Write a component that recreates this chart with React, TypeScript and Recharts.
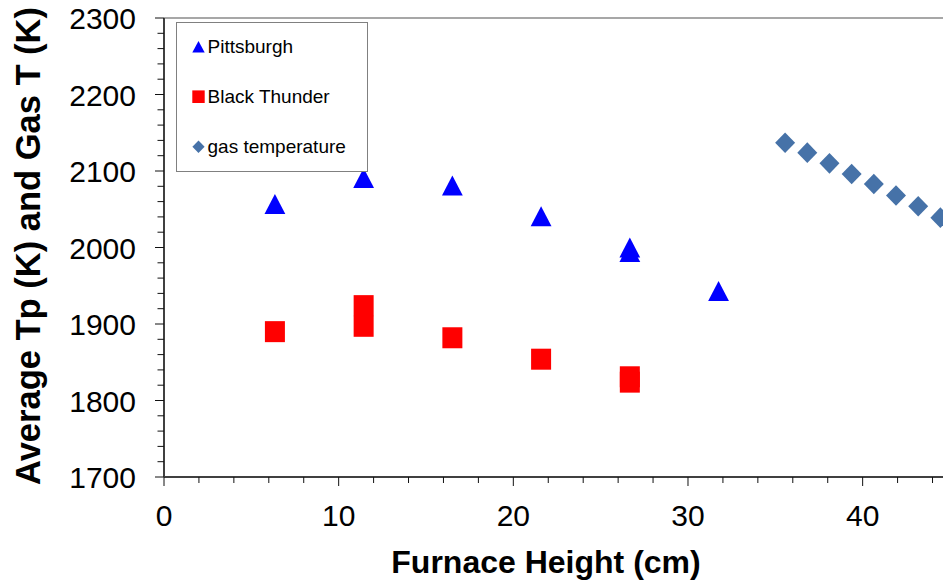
import React from 'react';
import { ScatterChart, Scatter, XAxis, YAxis, ReferenceLine, Legend } from 'recharts';

const FONT = 'Arial, "Liberation Sans", Helvetica, sans-serif';

// furnace height (cm) and particle / gas temperatures (K)
const pittsburghX = [6.35, 11.43, 16.51, 21.59, 26.67, 26.67, 31.75];
const pittsburghT = [2057, 2091, 2081, 2041, 2000, 1994, 1943];

const blackThunderX = [6.35, 11.43, 11.43, 16.51, 21.59, 26.67, 26.67];
const blackThunderT = [1890, 1924, 1897, 1882, 1854, 1831, 1824];

const gasX = [35.56, 36.83, 38.1, 39.37, 40.64, 41.91, 43.18, 44.45];
const gasT = [2137, 2124, 2110, 2096, 2083, 2068, 2054, 2039];

const seriesNames = ['Pittsburgh', 'Black Thunder', 'gas temperature'];

// every tick position (major ones carry a label)
const xTicks = [0, 2, 4, 6, 8, 10, 12, 14, 16, 18, 20, 22, 24, 26, 28, 30, 32, 34, 36, 38, 40, 42, 44];
const yTicks = [
  1700, 1720, 1740, 1760, 1780, 1800, 1820, 1840, 1860, 1880, 1900, 1920, 1940, 1960, 1980, 2000,
  2020, 2040, 2060, 2080, 2100, 2120, 2140, 2160, 2180, 2200, 2220, 2240, 2260, 2280, 2300,
];

const toPoints = (xs: number[], ys: number[]) => xs.map((x, i) => ({ x, y: ys[i] }));

const pittsburghData = toPoints(pittsburghX, pittsburghT);
const blackThunderData = toPoints(blackThunderX, blackThunderT);
const gasData = toPoints(gasX, gasT);

const BLUE = '#0000FF';
const RED = '#FF0000';
const STEEL = '#4672A8';

const Triangle = ({ cx, cy, fill }: any) => (
  <polygon points={`${cx},${cy - 10} ${cx + 10.4},${cy + 10} ${cx - 10.4},${cy + 10}`} fill={fill} />
);
const Square = ({ cx, cy, fill }: any) => <rect x={cx - 10} y={cy - 10.5} width={20} height={21} fill={fill} />;
const Diamond = ({ cx, cy, fill }: any) => (
  <polygon points={`${cx},${cy - 10.3} ${cx + 10},${cy} ${cx},${cy + 10.3} ${cx - 10},${cy}`} fill={fill} />
);

const XTick = ({ x, y, payload }: any) => {
  const major = payload.value % 10 === 0;
  return (
    <g>
      <line x1={x} y1={y} x2={x} y2={y + (major ? 9 : 6)} stroke="#111" strokeWidth={1} />
      {major && (
        <text x={x} y={y + 48.5} textAnchor="middle" fontSize={30} fontFamily={FONT} fill="#000">
          {payload.value}
        </text>
      )}
    </g>
  );
};

const YTick = ({ x, y, payload }: any) => {
  const major = payload.value % 100 === 0;
  return (
    <g>
      <line x1={x} y1={y} x2={x - (major ? 9 : 6.5)} y2={y} stroke="#111" strokeWidth={1} />
      {major && (
        <text x={x - 28} y={y + 11} textAnchor="end" fontSize={30} fontFamily={FONT} fill="#000">
          {payload.value}
        </text>
      )}
    </g>
  );
};

const XTitle = () => (
  <text x={546} y={573} textAnchor="middle" fontSize={32} fontWeight="bold" fontFamily={FONT} fill="#000">
    Furnace Height (cm)
  </text>
);

const YTitle = () => (
  <text
    x={40}
    y={246}
    transform="rotate(-90, 40, 246)"
    textAnchor="middle"
    fontSize={34.5}
    fontWeight="bold"
    fontFamily={FONT}
    fill="#000"
  >
    Average Tp (K) and Gas T (K)
  </text>
);

const LegendMarker = ({ name, color }: any) => {
  if (name === 'Pittsburgh') return <polygon points="22.5,19 28.7,30.6 16.3,30.6" fill={color} />;
  if (name === 'Black Thunder') return <rect x={16.3} y={68.4} width={12.4} height={12.6} fill={color} />;
  return <polygon points="22.5,118.5 28.6,124.7 22.5,130.9 16.4,124.7" fill={color} />;
};

const LegendBox = ({ payload }: any) => {
  const items = seriesNames.map((n) => (payload || []).find((p: any) => p.value === n)).filter(Boolean);
  return (
    <svg width={193} height={151} style={{ display: 'block' }}>
      <rect x={0.5} y={0.5} width={191} height={149} fill="#fff" stroke="#808080" strokeWidth={1} />
      {items.map((entry: any, i: number) => (
        <g key={entry.value}>
          <LegendMarker name={entry.value} color={entry.color} />
          <text x={31.5} y={24.7 + i * 50 + 6.7} fontSize={19} fontFamily={FONT} fill="#000">
            {entry.value}
          </text>
        </g>
      ))}
    </svg>
  );
};

const App = () => {
  return (
    <div style={{ position: 'absolute', left: 0, top: 0, width: 943, height: 582, background: '#fff', overflow: 'hidden' }}>
      <ScatterChart width={943} height={582} margin={{ top: 18, right: 0, bottom: 0, left: 0 }}>
        <XAxis
          type="number"
          dataKey="x"
          domain={[0, 44.6]}
          allowDataOverflow
          ticks={xTicks}
          interval={0}
          tickSize={0}
          tickMargin={0}
          tickLine={false}
          tick={(props: any) => <XTick {...props} />}
          axisLine={{ stroke: '#404040', strokeWidth: 2 }}
          height={105}
          label={<XTitle />}
        />
        <YAxis
          type="number"
          dataKey="y"
          domain={[1700, 2300]}
          allowDataOverflow
          ticks={yTicks}
          interval={0}
          tickSize={0}
          tickMargin={0}
          tickLine={false}
          tick={(props: any) => <YTick {...props} />}
          axisLine={{ stroke: '#404040', strokeWidth: 2 }}
          width={164}
          label={<YTitle />}
        />
        <ReferenceLine y={2300} stroke="#8a8a8a" strokeWidth={1.5} />
        <Scatter
          name="Pittsburgh"
          data={pittsburghData}
          fill={BLUE}
          isAnimationActive={false}
          shape={(props: any) => <Triangle {...props} fill={BLUE} />}
        />
        <Scatter
          name="Black Thunder"
          data={blackThunderData}
          fill={RED}
          isAnimationActive={false}
          shape={(props: any) => <Square {...props} fill={RED} />}
        />
        <Scatter
          name="gas temperature"
          data={gasData}
          fill={STEEL}
          isAnimationActive={false}
          shape={(props: any) => <Diamond {...props} fill={STEEL} />}
        />
        <Legend
          layout="horizontal"
          align="center"
          verticalAlign="middle"
          content={(props: any) => <LegendBox {...props} />}
          wrapperStyle={{ left: 176, top: 22, width: 193, height: 151 }}
        />
      </ScatterChart>
    </div>
  );
};

export default App;
